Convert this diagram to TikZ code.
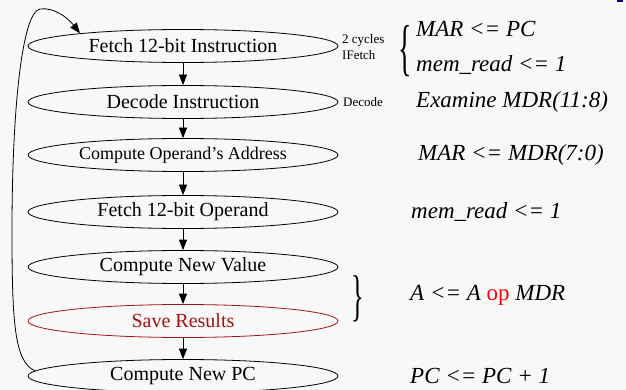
\documentclass[tikz,border=0pt]{standalone}
\usepackage{fontspec}
\setmainfont{Liberation Serif}
\usetikzlibrary{shapes.geometric,arrows.meta}
\definecolor{bgcol}{RGB}{248,248,248}
\definecolor{savered}{RGB}{160,20,20}
\definecolor{opred}{RGB}{255,0,0}
\tikzset{
  stage/.style={draw, ellipse, line width=0.8pt, minimum width=310pt,
    minimum height=33pt, inner sep=0pt, font=\fontsize{20}{22}\selectfont},
  flow/.style={line width=0.8pt, -{Triangle[length=10.5pt,width=8pt]}},
  note/.style={anchor=west, inner sep=0pt, font=\fontsize{13}{14}\selectfont},
  rtl/.style={anchor=west, inner sep=0pt, font=\fontsize{23}{25}\selectfont\itshape},
  bracebox/.style={inner sep=0pt, anchor=center}
}
\begin{document}
\begin{tikzpicture}[x=1pt,y=-1pt]
\fill[bgcol] (0,0) rectangle (626,390);
\useasboundingbox (0,0) rectangle (626,390);
\fill[blue!50!black] (617,0) rectangle (623,2.5);

% processing stages
\node[stage] (fi) at (183,46) {Fetch 12-bit Instruction};
\node[stage] (di) at (183,102) {Decode Instruction};
\node[stage, font=\fontsize{18}{20}\selectfont] (ca) at (183,155) {Compute Operand’s Address};
\node[stage] (fo) at (183,212) {Fetch 12-bit Operand};
\node[stage] (cv) at (183,267) {Compute New Value};
\node[stage, draw=savered, text=savered] (sr) at (183,321) {Save Results};
\node[stage] (pc) at (183,376) {Compute New PC};

\draw[flow] (fi) -- (di);
\draw[flow] (di) -- (ca);
\draw[flow] (ca) -- (fo);
\draw[flow] (fo) -- (cv);
\draw[flow] (cv) -- (sr);
\draw[flow] (sr) -- (pc);

% loop back to the first stage
\draw[flow] (pc.178) .. controls (14,362) and (12,320) .. (12,230)
  .. controls (12,110) and (22,12) .. (40,9)
  .. controls (54,7) and (68,18) .. (fi.173);

% stage annotations
\node[note] (n1) at (342,40) {2 cycles};
\node[note] (n2) at (342,55) {IFetch};
\node[note] (n3) at (343,102) {Decode};

% register transfers
\node[bracebox] (b1) at (405,51) {\scalebox{0.45}[1]{\fontsize{62}{62}\selectfont\{}};
\node[rtl] (r1) at (416,29) {MAR <= PC};
\node[rtl] (r2) at (416,65) {mem\_read <= 1};
\node[rtl] (r3) at (416,102) {Examine MDR(11:8)};
\node[rtl] (r4) at (418,155) {MAR <= MDR(7:0)};
\node[rtl] (r5) at (411,212) {mem\_read <= 1};
\node[bracebox] (b2) at (358,299) {\scalebox{0.47}[1]{\fontsize{56}{56}\selectfont\}}};
\node[rtl] (r6) at (410,295) {A <= A \textcolor{opred}{\upshape op} MDR};
\node[rtl] (r7) at (410,376) {PC <= PC + 1};
\end{tikzpicture}
\end{document}
